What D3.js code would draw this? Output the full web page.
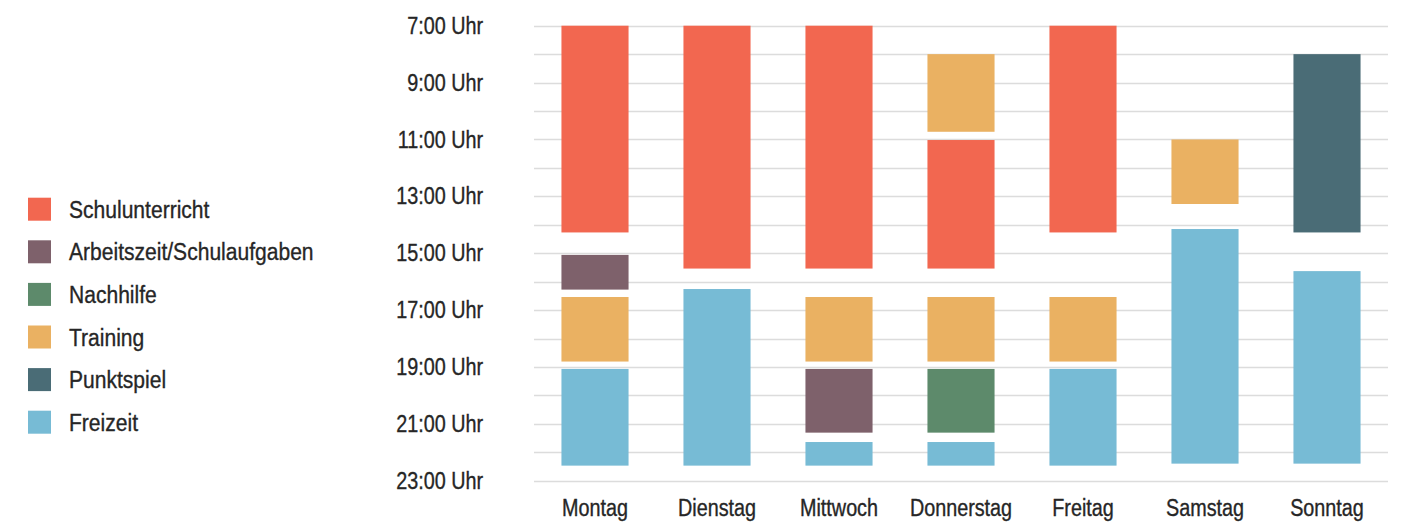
<!DOCTYPE html>
<html>
<head>
<meta charset="utf-8">
<script src="https://cdn.jsdelivr.net/npm/d3@7"></script>
<style>
  body { margin: 0; background: #fff; }
  text { font-family: "Liberation Sans", "Arial", sans-serif; fill: #262626; stroke: #262626; stroke-width: 0.35px; font-size: 23px; }
</style>
</head>
<body>
<div id="chart"></div>
<script>
const days = ["Montag", "Dienstag", "Mittwoch", "Donnerstag", "Freitag", "Samstag", "Sonntag"];
const activities = ["Schulunterricht", "Arbeitszeit/Schulaufgaben", "Nachhilfe", "Training", "Punktspiel", "Freizeit"];
const colors = ["#f26750", "#7e616b", "#5d8a6b", "#eab162", "#4a6c76", "#77bbd5"];
const hourTicks = [7, 9, 11, 13, 15, 17, 19, 21, 23];

// blocks per day: [activity, start hour, end hour]
const montag     = [["Schulunterricht", 7, 14.27], ["Arbeitszeit/Schulaufgaben", 15.06, 16.28], ["Training", 16.54, 18.81], ["Freizeit", 19.07, 22.47]];
const dienstag   = [["Schulunterricht", 7, 15.54], ["Freizeit", 16.26, 22.47]];
const mittwoch   = [["Schulunterricht", 7, 15.54], ["Training", 16.54, 18.81], ["Arbeitszeit/Schulaufgaben", 19.07, 21.31], ["Freizeit", 21.64, 22.47]];
const donnerstag = [["Training", 8, 10.73], ["Schulunterricht", 11.02, 15.54], ["Training", 16.54, 18.81], ["Nachhilfe", 19.07, 21.31], ["Freizeit", 21.64, 22.47]];
const freitag    = [["Schulunterricht", 7, 14.27], ["Training", 16.54, 18.81], ["Freizeit", 19.07, 22.47]];
const samstag    = [["Training", 11, 13.27], ["Freizeit", 14.15, 22.40]];
const sonntag    = [["Punktspiel", 8, 14.27], ["Freizeit", 15.63, 22.40]];
const schedule = [montag, dienstag, mittwoch, donnerstag, freitag, samstag, sonntag];

const width = 1407, height = 524;
const margin = { top: 25.7, right: 19, bottom: 43.3, left: 534 };
const squeeze = 0.86; // condensed look for the labels

const svg = d3.select("#chart").append("svg")
  .attr("width", width)
  .attr("height", height);

const x = d3.scaleBand()
  .domain(days)
  .range([margin.left, width - margin.right])
  .paddingInner(0.45)
  .paddingOuter(0.225);

const y = d3.scaleLinear()
  .domain([7, 23])
  .range([margin.top, height - margin.bottom]);

const color = d3.scaleOrdinal().domain(activities).range(colors);

// grid lines every hour
svg.append("g")
  .selectAll("line")
  .data(d3.range(7, 24))
  .join("line")
    .attr("x1", margin.left)
    .attr("x2", width - margin.right)
    .attr("y1", d => Math.round(y(d)) + 0.5)
    .attr("y2", d => Math.round(y(d)) + 0.5)
    .attr("stroke", "#dcdcdc")
    .attr("stroke-width", 1.3);

// y labels
svg.append("g")
  .selectAll("text")
  .data(hourTicks)
  .join("text")
    .attr("transform", d => "translate(483," + y(d) + ") scale(" + squeeze + ",1)")
    .attr("dy", "0.35em")
    .attr("text-anchor", "end")
    .text(d => d + ":00 Uhr");

// x labels
svg.append("g")
  .selectAll("text")
  .data(days)
  .join("text")
    .attr("transform", d => "translate(" + (x(d) + x.bandwidth() / 2) + ",516) scale(" + squeeze + ",1)")
    .attr("text-anchor", "middle")
    .text(d => d);

// bars
const dayGroups = svg.append("g")
  .selectAll("g")
  .data(schedule)
  .join("g")
    .attr("transform", (d, i) => "translate(" + x(days[i]) + ",0)");

dayGroups.selectAll("rect")
  .data(d => d)
  .join("rect")
    .attr("x", 0)
    .attr("width", x.bandwidth())
    .attr("y", d => y(d[1]))
    .attr("height", d => y(d[2]) - y(d[1]))
    .attr("fill", d => color(d[0]));

// legend
const legend = svg.append("g")
  .selectAll("g")
  .data(activities)
  .join("g")
    .attr("transform", (d, i) => "translate(28," + (197.7 + i * 42.6) + ")");

legend.append("rect")
  .attr("width", 23)
  .attr("height", 23)
  .attr("fill", d => color(d));

legend.append("text")
  .attr("transform", "translate(41,11.5) scale(" + squeeze + ",1)")
  .attr("dy", "0.35em")
  .style("font-size", "24.5px")
  .text(d => d);
</script>
</body>
</html>
